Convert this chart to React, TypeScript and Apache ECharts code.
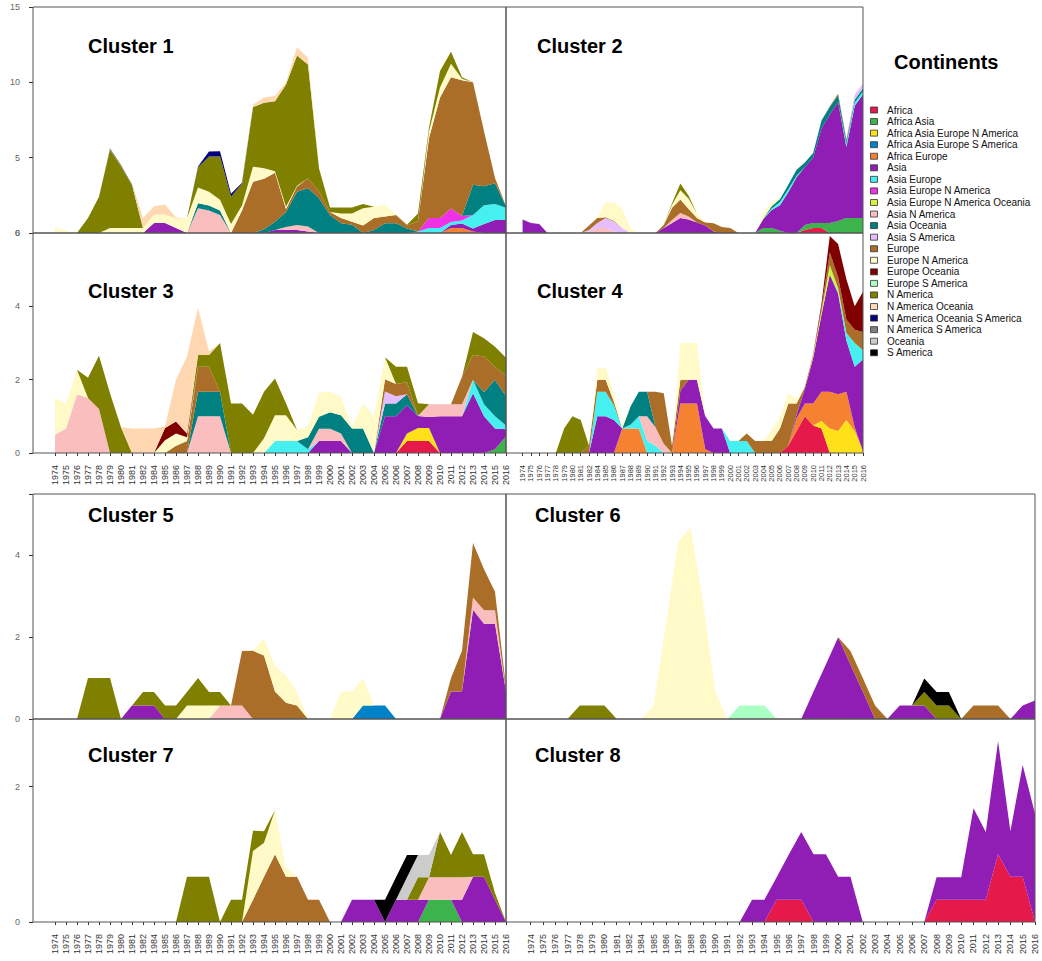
import React, { useEffect, useRef } from "react";
import * as echarts from "echarts";

const YEARS = [
  "1974","1975","1976","1977","1978","1979","1980","1981","1982",
  "1984","1985","1986","1987","1988","1989","1990","1991","1992","1993","1994",
  "1995","1996","1997","1998","1999","2000","2001","2002","2003","2004",
  "2005","2006","2007","2008","2009","2010","2011","2012","2013","2014","2015","2016",
];

const CATEGORIES = [
  "Africa","Africa Asia","Africa Asia Europe N America","Africa Asia Europe S America","Africa Europe",
  "Asia","Asia Europe","Asia Europe N America","Asia Europe N America Oceania","Asia N America",
  "Asia Oceania","Asia S America","Europe","Europe N America","Europe Oceania","Europe S America",
  "N America","N America Oceania","N America Oceania S America","N America S America","Oceania","S America",
];

const COLORS = [
  "#E6194B","#3CB44B","#FFE119","#0082C8","#F58231",
  "#911EB4","#46F0F0","#F032E6","#D2F53C","#FABEBE",
  "#008080","#E6BEFF","#AA6E28","#FFFAC8","#800000","#AAFFC3",
  "#808000","#FFD8B1","#000080","#808080","#CCCCCC","#000000",
];

const TITLES = ["Cluster 1","Cluster 2","Cluster 3","Cluster 4","Cluster 5","Cluster 6","Cluster 7","Cluster 8"];
const Y_MAX = [15, 15, 6, 6, 5.5, 5.5, 3, 3];
const Y_STEP = [5, 5, 2, 2, 2, 2, 2, 2];

// ---------- Cluster 1 ----------
const c1_africaEurope = [0,0,0,0,0,0,0,0,0,0, 0,0,0,0,0,0,0,0,0,0, 0,0,0,0,0,0,0,0,0,0, 0,0,0,0,0,0,0.33,0.33,0.1,0, 0,0];
const c1_asia = [0,0,0,0,0,0,0,0,0,0.67, 0.67,0.33,0,0,0,0,0,0,0,0, 0.2,0.2,0.2,0.1,0,0,0,0,0,0, 0,0,0,0,0,0,0.2,0.3,0.2,0.6, 0.87,0.87];
const c1_asiaEurope = [0,0,0,0,0,0,0,0,0,0, 0,0,0,0,0,0,0,0,0,0, 0,0,0,0,0,0,0,0,0,0, 0,0,0,0.1,0.33,0.33,0.2,0.2,0.9,1.25, 1.05,0.8];
const c1_asiaEuropeNAm = [0,0,0,0,0,0,0,0,0,0, 0,0,0,0,0,0,0,0,0,0, 0,0,0,0,0,0,0,0,0,0, 0,0,0,0,0.67,0.67,0.9,0.3,0,0, 0,0];
const c1_asiaNAm = [0,0,0,0,0,0,0,0,0,0, 0,0,0,1.64,1.5,1.2,0,0,0,0, 0,0.2,0.33,0.33,0,0,0,0,0,0, 0,0,0,0,0,0,0,0,0,0, 0,0];
const c1_asiaOceania = [0,0,0,0,0,0,0,0,0,0, 0,0,0,0.33,0.33,0.3,0,0,0,0.25, 0.55,1.0,2.2,2.55,2.3,1.2,0.65,0.55,0,0.2, 0.65,0.65,0.3,0,0,0,0,0,2.0,1.25, 1.38,0.1];
const c1_europe = [0,0,0,0,0,0,0,0,0,0, 0,0,0,0,0,0,0,1.5,3.4,3.35, 3.25,0.2,0.35,0.65,0.45,0.2,0.35,0.2,0.5,0.8, 0.45,0.55,0.2,0.7,5.3,8.0,8.7,9.0,6.8,3.65, 0.35,0];
const c1_europeNAm = [0.4,0.15,0,0,0,0.33,0.33,0.33,0.33,0.55, 0.55,0.65,0.98,1.05,0.9,0.7,0.6,0.33,1.0,0.7, 0.1,0.15,0.05,0,0,0,0.3,0.55,1.15,0.75, 0.8,0,0,0,0.45,0.65,0.9,0.1,0,0, 0,0];
const c1_nAm = [0,0,0,1.0,2.4,5.2,4.1,2.85,0,0, 0,0,0,1.35,2.35,2.9,1.8,1.45,3.96,4.35, 4.65,8.1,8.65,7.55,1.55,0.3,0.4,0.4,0.28,0, 0,0,0.05,0.5,0.25,1.1,0.8,0.1,0,0, 0,0];
const c1_nAmOceania = [0,0,0,0,0,0,0,0,0.67,0.55, 0.67,0.05,0,0,0,0,0,0,0.15,0.35, 0.35,0.15,0.55,0.45,0,0,0,0,0,0, 0,0,0,0,0,0,0,0,0,0, 0,0];
const c1_nAmOceaniaSAm = [0,0,0,0,0,0,0,0,0,0, 0,0,0,0.05,0.33,0.33,0.2,0.05,0,0, 0,0,0,0,0,0,0,0,0,0, 0,0,0,0,0,0,0,0,0,0, 0,0];
const c1_nAmSAm = [0,0,0,0,0,0.1,0.1,0.05,0,0, 0,0,0,0,0,0,0,0,0,0, 0,0,0,0,0,0,0,0,0,0, 0,0,0,0,0,0,0,0,0,0, 0,0];

// ---------- Cluster 2 ----------
const c2_africa = [0,0,0,0,0,0,0,0,0,0, 0,0,0,0,0,0,0,0,0,0, 0,0,0,0,0,0,0,0,0,0, 0,0,0,0,0.2,0.33,0.33,0,0,0, 0,0];
const c2_africaAsia = [0,0,0,0,0,0,0,0,0,0, 0,0,0,0,0,0,0,0,0,0, 0,0,0,0,0,0,0,0,0,0.33, 0.33,0.15,0,0,0.33,0.33,0.33,0.67,0.8,1.0, 1.0,1.0];
const c2_asia = [0.9,0.67,0.6,0,0,0,0,0,0,0, 0,0,0,0,0,0,0,0.33,0.67,1.0, 0.9,0.7,0.5,0.1,0,0,0,0,0,0.6, 1.2,1.7,2.7,3.7,3.85,4.35,6.3,7.2,7.9,4.7, 7.45,8.2];
const c2_asiaEurope = [0,0,0,0,0,0,0,0,0,0, 0,0,0,0,0,0,0,0,0,0, 0,0,0,0,0,0,0,0,0,0.05, 0.1,0.2,0.2,0.1,0,0,0,0,0,0.2, 0.2,0.2];
const c2_asiaNAm = [0,0,0,0,0,0,0,0,0.1,0.33, 0.33,0.1,0,0,0,0,0,0,0.2,0.33, 0.2,0,0,0,0,0,0,0,0,0, 0,0,0,0,0,0,0,0,0,0, 0,0];
const c2_asiaOceania = [0,0,0,0,0,0,0,0,0,0, 0,0,0,0,0,0,0,0,0,0, 0,0,0,0,0,0,0,0,0,0, 0.15,0.2,0.3,0.4,0.3,0.3,0.5,0.5,0.45,0.2, 0.2,0.2];
const c2_asiaSAm = [0,0,0,0,0,0,0,0,0.1,0.33, 0.67,0.67,0.33,0,0,0,0,0,0,0, 0,0,0,0,0,0,0,0,0,0, 0,0,0,0,0,0,0,0,0,0, 0.33,0.33];
const c2_europe = [0,0,0,0,0,0,0,0,0.3,0.33, 0.05,0.05,0,0,0,0,0,0.2,0.8,0.9, 0.5,0.3,0.2,0.55,0.4,0.33,0,0,0,0, 0,0,0,0,0,0,0,0.05,0.1,0.1, 0,0];
const c2_europeNAm = [0,0,0,0,0,0,0,0,0,0, 1.0,1.2,1.3,0.3,0,0,0,0,0.2,0.6, 0.67,0.3,0,0,0,0,0,0,0,0.4, 0.3,0.1,0,0,0,0,0,0,0,0, 0,0];
const c2_nAm = [0,0,0,0,0,0,0,0,0,0, 0,0,0,0,0,0,0,0,0.1,0.45, 0.2,0,0,0,0,0,0,0,0,0, 0,0,0,0,0,0,0,0,0,0, 0,0];

// ---------- Cluster 3 ----------
const c3_africa = [0,0,0,0,0,0,0,0,0,0, 0,0,0,0,0,0,0,0,0,0, 0,0,0,0,0,0,0,0,0,0, 0,0,0.33,0.33,0.33,0,0,0,0,0, 0,0];
const c3_africaAsia = [0,0,0,0,0,0,0,0,0,0, 0,0,0,0,0,0,0,0,0,0, 0,0,0,0,0,0,0,0,0,0, 0,0,0,0,0,0,0,0,0,0, 0.1,0.45];
const c3_africaAsiaEuropeNAm = [0,0,0,0,0,0,0,0,0,0, 0,0,0,0,0,0,0,0,0,0, 0,0,0,0,0,0,0,0,0,0, 0,0,0.2,0.35,0.35,0,0,0,0,0, 0,0];
const c3_asia = [0,0,0,0,0,0,0,0,0,0, 0,0,0,0,0,0,0,0,0,0, 0,0,0,0,0.33,0.33,0.33,0,0,0, 1.0,1.0,0.77,0.33,0.3,1.0,1.0,1.0,1.63,1.0, 0.57,0.2];
const c3_asiaEurope = [0,0,0,0,0,0,0,0,0,0, 0,0,0,0,0,0,0,0,0,0, 0.33,0.33,0.33,0.1,0,0,0,0,0,0, 0,0,0,0,0,0,0,0,0.37,0.33, 0.33,0.1];
const c3_asiaNAm = [0.5,0.67,1.6,1.5,1.2,0,0,0,0,0, 0,0,0,1.0,1.0,1.0,0,0,0,0, 0,0,0,0,0.33,0.33,0.2,0,0,0, 0,0,0,0,0.35,0.33,0.33,0.33,0,0, 0,0];
const c3_asiaOceania = [0,0,0,0,0,0,0,0,0,0, 0,0,0,0.67,0.67,0.67,0,0,0,0, 0,0,0,0.33,0.33,0.45,0.5,0.67,0.67,0, 0.35,0.35,0.3,0,0,0,0,0,0,0.33, 1.0,0.8];
const c3_asiaSAm = [0,0,0,0,0,0,0,0,0,0, 0,0,0,0,0,0,0,0,0,0, 0,0,0,0,0,0,0,0,0,0, 0.33,0.2,0,0,0,0,0,0,0,0, 0,0];
const c3_europe = [0,0,0,0,0,0,0,0,0,0, 0,0.2,0.33,0.68,0.68,0,0,0,0,0, 0,0,0,0,0,0,0,0,0,0, 0.33,0.33,0.33,0,0,0,0,0.75,0.67,0.97, 0.35,0.55];
const c3_europeNAm = [1.0,0.67,0.67,0,0,0,0,0,0,0, 0.35,0.33,0.1,0,0,0,0,0,0,0.4, 0.7,0.7,0.3,0.3,0.67,0.56,0.5,0.05,0.67,1.0, 0.6,0,0,0,0,0,0,0,0,0, 0,0];
const c3_europeOceania = [0,0,0,0,0,0,0,0,0,0, 0.33,0.33,0.1,0,0,0,0,0,0,0, 0,0,0,0,0,0,0,0,0,0, 0,0,0,0,0,0,0,0,0,0, 0,0];
const c3_nAm = [0,0,0,0.55,1.45,1.63,0.7,0,0,0, 0,0,0,0.32,0.32,1.33,1.35,1.35,1.04,1.27, 1.0,0.33,0,0,0,0,0,0,0,0, 0,0.47,0.42,0.35,0,0,0,0,0.63,0.5, 0.55,0.5];
const c3_nAmOceania = [0,0,0,0,0,0,0,0.67,0.67,0.67, 0.05,1.14,2.1,1.3,0.1,0,0,0,0,0, 0,0,0,0,0,0,0,0,0,0, 0,0,0,0,0,0,0,0,0,0, 0,0];

// ---------- Cluster 4 ----------
const c4_africa = [0,0,0,0,0,0,0,0,0,0, 0,0,0,0,0,0,0,0,0,0, 0,0,0,0,0,0,0,0,0,0, 0,0,0.2,0.6,1.0,0.75,0.67,0,0,0, 0,0];
const c4_africaAsiaEuropeNAm = [0,0,0,0,0,0,0,0,0,0, 0,0,0,0,0,0,0,0,0,0, 0,0,0,0,0,0,0,0,0,0, 0,0,0,0,0,0,0.2,0.67,0.6,0.9, 0.6,0.05];
const c4_africaEurope = [0,0,0,0,0,0,0,0,0,0, 0,0,0.67,0.67,0.67,0,0,0,0,1.35, 1.35,1.35,0.1,0,0,0,0,0,0,0, 0,0,0,0.35,0.35,0.6,0.8,1.0,1.0,0.77, 0.1,0];
const c4_asia = [0,0,0,0,0,0,0,0,0,1.0, 1.0,0.9,0,0,0,0,0,0,0,0.35, 0.65,0.65,0.9,0.67,0.67,0,0,0,0,0, 0,0,0,0.1,0.4,1.25,2.1,3.2,2.75,1.4, 1.65,2.5];
const c4_asiaEurope = [0,0,0,0,0,0,0,0,0,0.67, 0.67,0.4,0,0.1,0.33,0.33,0.2,0,0,0, 0,0,0,0,0,0.33,0.33,0.33,0,0, 0,0,0,0,0,0,0,0,0.05,0.2, 0.65,0.25];
const c4_asiaEuropeNAmOceania = [0,0,0,0,0,0,0,0,0,0, 0,0,0,0,0,0,0,0,0,0, 0,0,0,0,0,0,0,0,0,0, 0,0,0,0,0,0.05,0.1,0.25,0.1,0, 0,0];
const c4_asiaNAm = [0,0,0,0,0,0,0,0,0,0, 0,0,0,0,0,0.67,0.5,0.25,0,0, 0,0,0,0,0,0,0,0,0,0, 0,0,0,0,0,0,0,0,0,0, 0,0];
const c4_asiaOceania = [0,0,0,0,0,0,0,0,0,0, 0,0,0,0.5,0.67,0.67,0,0,0,0, 0,0,0,0,0,0,0,0,0,0, 0,0,0,0,0,0,0,0,0,0, 0,0];
const c4_europe = [0,0,0,0,0,0,0,0,0.2,0.33, 0.33,0.1,0,0,0,0,0.97,1.38,0.2,0.3, 0,0,0,0,0,0,0,0.2,0.33,0.33, 0.33,0.67,1.15,0.3,0.05,0.05,0.1,0.35,0.3,0.37, 0.36,0.5];
const c4_europeNAm = [0,0,0,0,0,0,0,0,0,0.3, 0.33,0.2,0.1,0,0,0,0,0,0,1.0, 1.0,1.0,0,0,0,0,0,0,0,0, 0.3,0.3,0.3,0.1,0,0,0,0,0,0, 0,0];
const c4_europeOceania = [0,0,0,0,0,0,0,0,0,0, 0,0,0,0,0,0,0,0,0,0, 0,0,0,0,0,0,0,0,0,0, 0,0,0,0,0,0,0.1,0.45,0.9,1.1, 0.64,1.1];
const c4_nAm = [0,0,0,0,0,0.67,1.0,0.9,0,0, 0,0,0,0,0,0,0,0,0,0, 0,0,0,0,0,0,0,0,0,0, 0,0,0,0,0,0,0,0,0,0, 0,0];

// ---------- Cluster 5 ----------
const c5_africaAsiaEuropeSAm = [0,0,0,0,0,0,0,0,0,0, 0,0,0,0,0,0,0,0,0,0, 0,0,0,0,0,0,0,0,0.33,0.33, 0.33,0,0,0,0,0,0,0,0,0, 0,0];
const c5_asia = [0,0,0,0,0,0,0,0.33,0.33,0.33, 0,0,0,0,0,0,0,0,0,0, 0,0,0,0,0,0,0,0,0,0, 0,0,0,0,0,0,0.67,0.67,2.67,2.33, 2.33,0.67];
const c5_asiaNAm = [0,0,0,0,0,0,0,0,0,0, 0,0,0,0,0,0.33,0.33,0.33,0,0, 0,0,0,0,0,0,0,0,0,0, 0,0,0,0,0,0,0,0,0.3,0.33, 0.33,0];
const c5_europe = [0,0,0,0,0,0,0,0,0,0, 0,0,0,0,0,0,0,1.33,1.67,1.55, 0.67,0.4,0.33,0,0,0,0,0,0,0, 0,0,0,0,0,0,0.33,1.0,1.33,1.0, 0.45,0.1];
const c5_europeNAm = [0,0,0,0,0,0,0,0,0,0, 0,0,0.33,0.33,0.33,0,0,0,0,0.41, 0.63,0.67,0.33,0,0,0,0.67,0.67,0.67,0, 0,0,0,0,0,0,0,0,0,0, 0,0];
const c5_nAm = [0,0,0,1.0,1.0,1.0,0,0,0.33,0.33, 0.33,0.33,0.33,0.67,0.33,0.33,0,0,0,0, 0,0,0,0,0,0,0,0,0,0, 0,0,0,0,0,0,0,0,0,0, 0,0];

// ---------- Cluster 6 ----------
const c6_asia = [0,0,0,0,0,0,0,0,0,0, 0,0,0,0,0,0,0,0,0,0, 0,0,0,0.67,1.33,2.0,1.33,0.67,0,0, 0.33,0.33,0.33,0,0,0,0,0,0,0, 0.33,0.45];
const c6_europe = [0,0,0,0,0,0,0,0,0,0, 0,0,0,0,0,0,0,0,0,0, 0,0,0,0,0,0,0.33,0.33,0.33,0, 0,0,0,0,0,0,0.33,0.33,0.33,0, 0,0];
const c6_europeNAm = [0,0,0,0,0,0,0,0,0,0, 0.33,2.3,4.35,4.68,2.9,0.67,0,0,0,0, 0,0,0,0,0,0,0,0,0,0, 0,0,0,0,0,0,0,0,0,0, 0,0];
const c6_europeSAm = [0,0,0,0,0,0,0,0,0,0, 0,0,0,0,0,0,0,0.33,0.33,0.33, 0,0,0,0,0,0,0,0,0,0, 0,0,0,0,0,0,0,0,0,0, 0,0];
const c6_nAm = [0,0,0,0,0.33,0.33,0.33,0,0,0, 0,0,0,0,0,0,0,0,0,0, 0,0,0,0,0,0,0,0,0,0, 0,0,0.33,0.33,0.33,0,0,0,0,0, 0,0];
const c6_sAm = [0,0,0,0,0,0,0,0,0,0, 0,0,0,0,0,0,0,0,0,0, 0,0,0,0,0,0,0,0,0,0, 0,0,0.33,0.33,0.33,0,0,0,0,0, 0,0];

// ---------- Cluster 7 ----------
const c7_africaAsia = [0,0,0,0,0,0,0,0,0,0, 0,0,0,0,0,0,0,0,0,0, 0,0,0,0,0,0,0,0,0,0, 0,0,0,0,0.33,0.33,0.33,0,0,0, 0,0];
const c7_asia = [0,0,0,0,0,0,0,0,0,0, 0,0,0,0,0,0,0,0,0,0, 0,0,0,0,0,0,0,0.33,0.33,0.33, 0,0.33,0.33,0.33,0,0,0,0.33,0.67,0.67, 0.33,0];
const c7_asiaNAm = [0,0,0,0,0,0,0,0,0,0, 0,0,0,0,0,0,0,0,0,0, 0,0,0,0,0,0,0,0,0,0, 0,0,0,0,0.33,0.33,0.33,0.33,0,0, 0,0];
const c7_europe = [0,0,0,0,0,0,0,0,0,0, 0,0,0,0,0,0,0,0,0.33,0.67, 1.0,0.67,0.67,0.33,0.33,0,0,0,0,0, 0,0,0,0,0,0,0,0,0,0, 0,0];
const c7_europeNAm = [0,0,0,0,0,0,0,0,0,0, 0,0,0,0,0,0,0,0,0.72,0.5, 0.65,0.13,0,0,0,0,0,0,0,0, 0,0,0,0,0,0,0,0,0,0, 0,0];
const c7_nAm = [0,0,0,0,0,0,0,0,0,0, 0,0,0.67,0.67,0.67,0,0.33,0.33,0.3,0.17, 0,0,0,0,0,0,0,0,0,0, 0,0,0,0.33,0,0.67,0.33,0.67,0.33,0.33, 0.1,0];
const c7_oceania = [0,0,0,0,0,0,0,0,0,0, 0,0,0,0,0,0,0,0,0,0, 0,0,0,0,0,0,0,0,0,0, 0,0,0.33,0.33,0.33,0,0,0,0,0, 0,0];
const c7_sAm = [0,0,0,0,0,0,0,0,0,0, 0,0,0,0,0,0,0,0,0,0, 0,0,0,0,0,0,0,0,0,0, 0.33,0.33,0.33,0,0,0,0,0,0,0, 0,0];

// ---------- Cluster 8 ----------
const c8_africa = [0,0,0,0,0,0,0,0,0,0, 0,0,0,0,0,0,0,0,0,0, 0.33,0.33,0.33,0,0,0,0,0,0,0, 0,0,0,0.33,0.33,0.33,0.33,0.33,1.0,0.67, 0.67,0];
const c8_asia = [0,0,0,0,0,0,0,0,0,0, 0,0,0,0,0,0,0,0,0.33,0.33, 0.33,0.67,1.0,1.0,1.0,0.67,0.67,0,0,0, 0,0,0,0.33,0.33,0.33,1.35,1.0,1.67,0.67, 1.65,1.6];

const CLUSTER_SERIES: Record<string, number[]>[] = [
  {
    "Africa Europe": c1_africaEurope, "Asia": c1_asia, "Asia Europe": c1_asiaEurope,
    "Asia Europe N America": c1_asiaEuropeNAm, "Asia N America": c1_asiaNAm, "Asia Oceania": c1_asiaOceania,
    "Europe": c1_europe, "Europe N America": c1_europeNAm, "N America": c1_nAm,
    "N America Oceania": c1_nAmOceania, "N America Oceania S America": c1_nAmOceaniaSAm, "N America S America": c1_nAmSAm,
  },
  {
    "Africa": c2_africa, "Africa Asia": c2_africaAsia, "Asia": c2_asia, "Asia Europe": c2_asiaEurope,
    "Asia N America": c2_asiaNAm, "Asia Oceania": c2_asiaOceania, "Asia S America": c2_asiaSAm,
    "Europe": c2_europe, "Europe N America": c2_europeNAm, "N America": c2_nAm,
  },
  {
    "Africa": c3_africa, "Africa Asia": c3_africaAsia, "Africa Asia Europe N America": c3_africaAsiaEuropeNAm,
    "Asia": c3_asia, "Asia Europe": c3_asiaEurope, "Asia N America": c3_asiaNAm, "Asia Oceania": c3_asiaOceania,
    "Asia S America": c3_asiaSAm, "Europe": c3_europe, "Europe N America": c3_europeNAm,
    "Europe Oceania": c3_europeOceania, "N America": c3_nAm, "N America Oceania": c3_nAmOceania,
  },
  {
    "Africa": c4_africa, "Africa Asia Europe N America": c4_africaAsiaEuropeNAm, "Africa Europe": c4_africaEurope,
    "Asia": c4_asia, "Asia Europe": c4_asiaEurope, "Asia Europe N America Oceania": c4_asiaEuropeNAmOceania,
    "Asia N America": c4_asiaNAm, "Asia Oceania": c4_asiaOceania, "Europe": c4_europe,
    "Europe N America": c4_europeNAm, "Europe Oceania": c4_europeOceania, "N America": c4_nAm,
  },
  {
    "Africa Asia Europe S America": c5_africaAsiaEuropeSAm, "Asia": c5_asia, "Asia N America": c5_asiaNAm,
    "Europe": c5_europe, "Europe N America": c5_europeNAm, "N America": c5_nAm,
  },
  {
    "Asia": c6_asia, "Europe": c6_europe, "Europe N America": c6_europeNAm,
    "Europe S America": c6_europeSAm, "N America": c6_nAm, "S America": c6_sAm,
  },
  {
    "Africa Asia": c7_africaAsia, "Asia": c7_asia, "Asia N America": c7_asiaNAm, "Europe": c7_europe,
    "Europe N America": c7_europeNAm, "N America": c7_nAm, "Oceania": c7_oceania, "S America": c7_sAm,
  },
  { "Africa": c8_africa, "Asia": c8_asia },
];

// layout (pixels)
const PANELS = [
  { left: 33, top: 7, width: 473, height: 226, yLabels: true, xLabels: false, xFont: 9, tx: 88, ty: 46 },
  { left: 506, top: 7, width: 357, height: 226, yLabels: false, xLabels: false, xFont: 8, tx: 537, ty: 46 },
  { left: 33, top: 233, width: 473, height: 220, yLabels: true, xLabels: true, xFont: 9, tx: 88, ty: 291 },
  { left: 506, top: 233, width: 357, height: 220, yLabels: false, xLabels: true, xFont: 7.5, tx: 537, ty: 291 },
  { left: 33, top: 494, width: 473, height: 225, yLabels: true, xLabels: false, xFont: 9, tx: 88, ty: 515 },
  { left: 506, top: 494, width: 529, height: 225, yLabels: false, xLabels: false, xFont: 9, tx: 535, ty: 515 },
  { left: 33, top: 719, width: 473, height: 203, yLabels: true, xLabels: true, xFont: 9, tx: 88, ty: 755 },
  { left: 506, top: 719, width: 529, height: 203, yLabels: false, xLabels: true, xFont: 9, tx: 535, ty: 755 },
];

const FONT = "'Liberation Sans', Arial, sans-serif";
const PAD = ["pad0", "pad1"];

export default function App() {
  const ref = useRef<HTMLDivElement>(null);

  useEffect(() => {
    if (!ref.current) return;
    const chart = echarts.init(ref.current, null, { renderer: "svg" });

    const xCats = [...PAD, ...YEARS];
    const grid = PANELS.map((p) => ({
      left: p.left, top: p.top, width: p.width, height: p.height,
      show: true, borderColor: "#555", borderWidth: 1, backgroundColor: "transparent", z: 10,
    }));

    const xAxis = PANELS.map((p, k) => ({
      type: "category",
      gridIndex: k,
      data: xCats,
      boundaryGap: false,
      axisLine: { show: false },
      axisTick: {
        show: p.xLabels,
        interval: (i: number) => i >= 2,
        length: 3,
        lineStyle: { color: "#333", width: 1 },
      },
      axisLabel: {
        show: p.xLabels,
        interval: (i: number) => i >= 2,
        hideOverlap: false,
        showMinLabel: true,
        showMaxLabel: true,
        rotate: 90,
        fontSize: p.xFont,
        color: "#333",
        margin: 12,
        fontFamily: FONT,
        formatter: (v: string) => (PAD.includes(v) ? "" : v),
      },
      splitLine: { show: false },
    }));

    const yAxis = PANELS.map((p, k) => ({
      type: "value",
      gridIndex: k,
      min: 0,
      max: Y_MAX[k],
      interval: Y_STEP[k],
      axisLine: { show: false },
      axisTick: { show: p.yLabels, length: 4, lineStyle: { color: "#333" } },
      axisLabel: {
        show: p.yLabels,
        fontSize: 9,
        color: "#666",
        margin: 13,
        fontFamily: FONT,
        formatter: (v: number) => (Math.abs(v / Y_STEP[k] - Math.round(v / Y_STEP[k])) < 1e-6 ? String(v) : ""),
      },
      splitLine: { show: false },
    }));

    const series: any[] = [];
    CLUSTER_SERIES.forEach((cl, k) => {
      CATEGORIES.forEach((name, ci) => {
        const vals = cl[name];
        if (!vals) return;
        series.push({
          type: "line",
          name,
          xAxisIndex: k,
          yAxisIndex: k,
          stack: "cluster" + k,
          data: [null, null, ...vals],
          symbol: "none",
          showSymbol: false,
          smooth: false,
          lineStyle: { width: 0, color: COLORS[ci] },
          itemStyle: { color: COLORS[ci] },
          areaStyle: { color: COLORS[ci], opacity: 1 },
          emphasis: { disabled: true },
          silent: true,
        });
      });
    });

    const graphics: any[] = [];
    PANELS.forEach((p, k) => {
      graphics.push({
        type: "text",
        x: p.tx,
        y: p.ty,
        z: 100,
        style: {
          text: TITLES[k],
          fontSize: 20,
          fontWeight: "bold",
          fontFamily: FONT,
          fill: "#000",
          verticalAlign: "middle",
          align: "left",
        },
      });
    });
    graphics.push({
      type: "text",
      x: 894,
      y: 62,
      style: {
        text: "Continents",
        fontSize: 20,
        fontWeight: "bold",
        fontFamily: FONT,
        fill: "#000",
        verticalAlign: "middle",
      },
    });
    CATEGORIES.forEach((name, i) => {
      const cy = 110 + i * 11.56;
      graphics.push({
        type: "rect",
        shape: { x: 870.5, y: cy - 3, width: 7, height: 6 },
        style: { fill: COLORS[i], stroke: "#333", lineWidth: 0.8 },
      });
      graphics.push({
        type: "text",
        x: 887,
        y: cy,
        style: {
          text: name,
          fontSize: 10,
          fontFamily: FONT,
          fill: "#111",
          verticalAlign: "middle",
        },
      });
    });

    chart.setOption({
      animation: false,
      backgroundColor: "#fff",
      grid,
      xAxis,
      yAxis,
      series,
      graphic: graphics,
      tooltip: { show: false },
    });

    return () => chart.dispose();
  }, []);

  return (
    <div
      ref={ref}
      style={{ position: "absolute", left: 0, top: 0, width: 1042, height: 961 }}
    />
  );
}
